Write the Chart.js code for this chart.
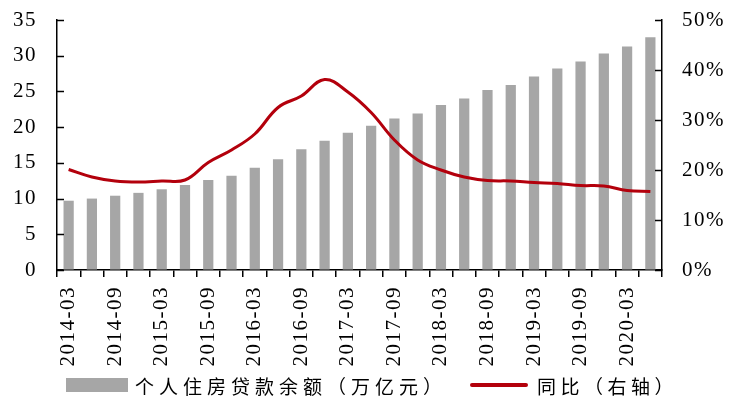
<!DOCTYPE html>
<html>
<head>
<meta charset="utf-8">
<script src="https://cdn.jsdelivr.net/npm/chart.js@4.4.1/dist/chart.umd.min.js"></script>
<style>
  html, body { margin: 0; padding: 0; background: #fff; }
  #wrap { position: relative; width: 734px; height: 404px; }
  #legend { position: absolute; left: 0; top: 373px; width: 734px; height: 24px;
            font-family: "Noto Sans CJK SC", sans-serif; font-size: 19px; color: #000; }
  .item { position: absolute; top: 0; display: flex; align-items: center; height: 24px; }
  .box { display: inline-block; width: 62px; height: 14px; background: #a6a6a6; }
  .ln { display: inline-block; width: 58px; height: 4px; background: #b3000c; border-radius: 2px; }
  .txt { letter-spacing: 5px; margin-left: 7px; white-space: nowrap; }
</style>
</head>
<body>
<div id="wrap">
  <canvas id="chart" width="734" height="404"></canvas>
  <div id="legend">
    <div class="item" style="left:66px"><span class="box"></span><span class="txt">个人住房贷款余额（万亿元）</span></div>
    <div class="item" style="left:470px"><span class="ln"></span><span class="txt" style="margin-left:9px;letter-spacing:4.5px">同比（右轴）</span></div>
  </div>
</div>
<script>
const quarters = [
  "2014-03", "2014-06", "2014-09", "2014-12", "2015-03", "2015-06", "2015-09", "2015-12",
  "2016-03", "2016-06", "2016-09", "2016-12", "2017-03", "2017-06", "2017-09", "2017-12",
  "2018-03", "2018-06", "2018-09", "2018-12", "2019-03", "2019-06", "2019-09", "2019-12",
  "2020-03", "2020-06"
];

// 个人住房贷款余额 (万亿元)
const loanBalance = [
  9.7, 10.0, 10.4, 10.8, 11.3, 11.9, 12.6, 13.2,
  14.3, 15.5, 16.9, 18.1, 19.2, 20.2, 21.2, 21.9,
  23.1, 24.0, 25.2, 25.9, 27.1, 28.2, 29.2, 30.3,
  31.3, 32.6
];

// 同比 (%)
const yoyGrowth = [
  20.1, 18.6, 17.8, 17.6, 17.8, 18.0, 21.5, 24.0,
  27.2, 32.5, 34.8, 38.1, 35.6, 31.5, 26.0, 22.0,
  20.0, 18.6, 17.9, 17.8, 17.5, 17.3, 16.9, 16.8,
  15.9, 15.7
];

const serif = "'Liberation Serif', 'Times New Roman', serif";

// a little letter spacing, the source font is set wide
const spacing = {
  id: 'spacing',
  beforeDraw(chart) { chart.ctx.letterSpacing = '1.5px'; },
  afterDraw(chart) { chart.ctx.letterSpacing = '0px'; }
};

// y axes here have their tick marks on the inside of the plot
const innerTicks = {
  id: 'innerTicks',
  afterDatasetsDraw(chart) {
    const ctx = chart.ctx;
    ctx.save();
    ctx.strokeStyle = '#000';
    ctx.lineWidth = 1.5;
    ['y', 'y1'].forEach(id => {
      const s = chart.scales[id];
      const x = id === 'y' ? chart.chartArea.left : chart.chartArea.right;
      const dir = id === 'y' ? 1 : -1;
      s.ticks.forEach(t => {
        const py = Math.round(s.getPixelForValue(t.value)) + 0.5;
        ctx.beginPath();
        ctx.moveTo(x, py);
        ctx.lineTo(x + dir * 7, py);
        ctx.stroke();
      });
    });
    ctx.restore();
  }
};

// pin the plot box to where it sits in the source picture
function fitY(width) {
  return s => {
    s.width = width;
    s.paddingTop = 0;
    s.paddingBottom = 0;
  };
}

new Chart(document.getElementById('chart'), {
  data: {
    labels: quarters,
    datasets: [
      {
        type: 'line',
        label: '同比（右轴）',
        data: yoyGrowth,
        yAxisID: 'y1',
        borderColor: '#b3000c',
        borderWidth: 3,
        pointRadius: 0,
        tension: 0.4,
        order: 0
      },
      {
        type: 'bar',
        label: '个人住房贷款余额（万亿元）',
        data: loanBalance,
        yAxisID: 'y',
        backgroundColor: '#a6a6a6',
        barPercentage: 0.44,
        categoryPercentage: 1.0,
        order: 1
      }
    ]
  },
  options: {
    responsive: false,
    animation: false,
    layout: { padding: { top: 20, bottom: 34, left: 0, right: 0 } },
    plugins: { legend: { display: false }, tooltip: { enabled: false } },
    scales: {
      x: {
        offset: true,
        grid: { drawOnChartArea: false, drawTicks: true, tickLength: 7, color: '#000', lineWidth: 1.5, offset: true },
        border: { color: '#000', width: 1.5 },
        ticks: {
          autoSkip: false,
          minRotation: 90,
          maxRotation: 90,
          padding: 9,
          color: '#000',
          font: { family: serif, size: 21 },
          callback: (v, i) => (i % 2 === 0 ? quarters[i] : '')
        },
        afterFit: s => { s.height = 100; s.paddingLeft = 0; s.paddingRight = 0; }
      },
      y: {
        position: 'left',
        min: 0,
        max: 35,
        grid: { drawOnChartArea: false, drawTicks: false },
        border: { color: '#000', width: 1.5 },
        ticks: { stepSize: 5, padding: 20, color: '#000', font: { family: serif, size: 21 } },
        afterFit: fitY(57)
      },
      y1: {
        position: 'right',
        min: 0,
        max: 50,
        grid: { drawOnChartArea: false, drawTicks: false },
        border: { color: '#000', width: 1.5 },
        ticks: { stepSize: 10, padding: 20, color: '#000', font: { family: serif, size: 21 },
                 callback: v => v + '%' },
        afterFit: fitY(72)
      }
    }
  },
  plugins: [spacing, innerTicks]
});
</script>
</body>
</html>
